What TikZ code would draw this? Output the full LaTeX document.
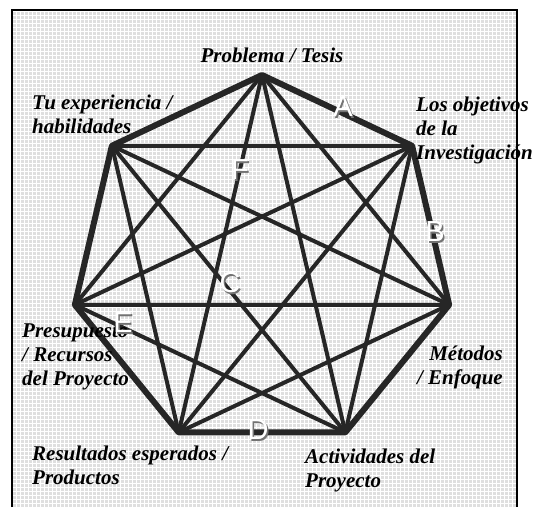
\documentclass[tikz,border=0pt]{standalone}
\usepackage{fontspec}
\setmainfont{Liberation Serif}
\newfontfamily\tagfont{Liberation Sans}
\usetikzlibrary{positioning,calc}
\tikzset{
    side/.style={draw=black!85, line width=6pt, line join=round},
    diag/.style={draw=black!85, line width=4pt, line cap=round},
    lbl/.style={font=\bfseries\itshape\fontsize{21}{24}\selectfont, inner sep=0pt},
    tag/.style={font=\tagfont\fontsize{29}{29}\selectfont, text=white, inner sep=0pt},
    tagshade/.style={tag, text=black!55},
}

\begin{document}
\begin{tikzpicture}[x=1pt, y=1pt]
    \useasboundingbox (0,0) rectangle (536,507);
    % background
    \fill[gray!25] (12,0) rectangle (517,497);
    \draw[white, line width=0.9pt, step=4] (12,0) grid (517,497);
    \draw[black, line width=1.4pt] (12,0) -- (12,497) -- (517,497) -- (517,0);

    % heptagon corners
    \foreach \k in {0,...,6} {
        \coordinate (v\k) at ({262+192*cos(90-\k*360/7)},{244+188*sin(90-\k*360/7)});
    }
    \foreach \k in {0,...,6} {
        \pgfmathtruncatemacro\ka{mod(\k+2,7)}
        \pgfmathtruncatemacro\kb{mod(\k+3,7)}
        \draw[diag] (v\k) -- (v\ka);
        \draw[diag] (v\k) -- (v\kb);
    }
    \draw[side] (v0) -- (v1) -- (v2) -- (v3) -- (v4) -- (v5) -- (v6) -- cycle;

    % labels
    \node[lbl, anchor=base] (problema) at (272,444) {Problema / Tesis};
    \node[lbl, anchor=north west, align=left] (objetivos) at (416,410) {Los objetivos\\de la\\Investigación};
    \node[lbl, anchor=north east, align=right] (metodos) at (503,161) {Métodos\\/ Enfoque};
    \node[lbl, anchor=north west, align=left] (actividades) at (305,58) {Actividades del\\Proyecto};
    \node[lbl, anchor=north west, align=left] (resultados) at (32,61) {Resultados esperados /\\Productos};
    \node[lbl, anchor=north west, align=left] (presupuesto) at (22,183) {Presupuesto\\/ Recursos\\del Proyecto};
    \node[lbl, anchor=north west, align=left] (experiencia) at (32,412) {Tu experiencia /\\habilidades};

    % letters
    \foreach \t/\x/\y in {A/343/400, B/435/275, C/230/224, D/258/77, E/123/184, F/240/337} {
        \node[tagshade] at (\x+1.5,\y-1.5) {\t};
        \node[tag] (tag-\t) at (\x,\y) {\t};
    }
\end{tikzpicture}
\end{document}
